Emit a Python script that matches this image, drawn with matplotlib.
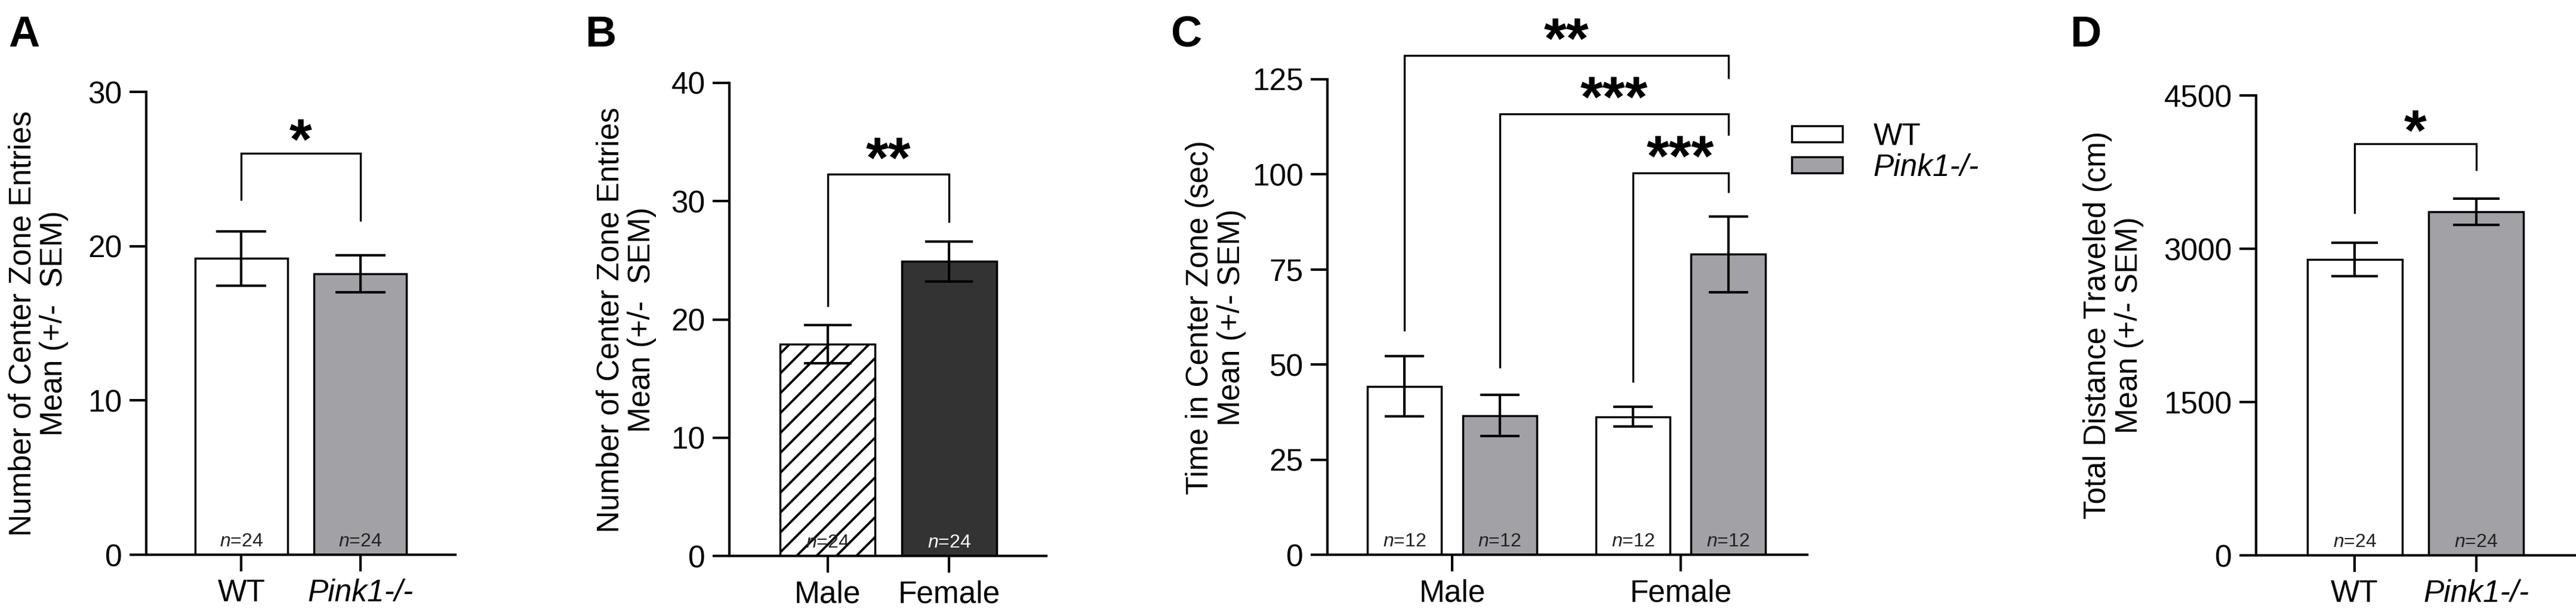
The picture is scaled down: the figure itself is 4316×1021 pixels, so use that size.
import matplotlib
matplotlib.use("Agg")
import matplotlib.pyplot as plt
from matplotlib.patches import Patch

# ---- data ----
genotypes = ["WT", "Pink1-/-"]
sexes = ["Male", "Female"]

# A: center zone entries by genotype
a_mean = [19.2, 18.2]
a_sem = [1.75, 1.2]
a_n = ["24", "24"]
a_ticks = [0, 10, 20, 30]

# B: center zone entries by sex
b_mean = [17.9, 24.9]
b_sem = [1.6, 1.7]
b_n = ["24", "24"]
b_ticks = [0, 10, 20, 30, 40]

# C: time in center zone, sex x genotype
c_wt_mean = [44.3, 36.3]
c_wt_sem = [7.85, 2.6]
c_pink_mean = [36.6, 79.0]
c_pink_sem = [5.45, 9.95]
c_n = ["12", "12", "12", "12"]
c_ticks = [0, 25, 50, 75, 100, 125]

# D: total distance by genotype
d_mean = [2894, 3361]
d_sem = [163, 128]
d_n = ["24", "24"]
d_ticks = [0, 1500, 3000, 4500]

# significance brackets: (x1, x2, top, left foot, right foot, star centre, label)
a_sig = [(0, 1, 26.0, 22.95, 21.6, 27.8, "*")]
b_sig = [(0, 1, 32.3, 21.1, 28.2, 34.8, "**")]
c_sig = [
    (0, 3.4, 131.3, 58.8, 125.2, 139.3, "**"),
    (1, 3.4, 115.9, 49.1, 110.3, 123.9, "***"),
    (2.4, 3.4, 100.4, 45.3, 95.2, 108.4, "***"),
]
d_sig = [(0, 1, 4025, 3342, 3767, 4291, "*")]

# ---- style ----
W, H = 4316, 1021
DPI = 100
WHITE = "#ffffff"
GRAY = "#a2a2a6"
DARK = "#333333"
FS = 37
STAR_FS = 70

plt.rcParams["font.family"] = ["Liberation Sans", "DejaVu Sans"]
plt.rcParams["mathtext.fontset"] = "custom"
plt.rcParams["mathtext.rm"] = "Liberation Sans"
plt.rcParams["mathtext.it"] = "Liberation Sans:italic"
plt.rcParams["hatch.linewidth"] = 2.8

fig = plt.figure(figsize=(W / DPI, H / DPI), dpi=DPI)


def add_axes(left, right, bottom, top):
    return fig.add_axes([left / W, 1 - bottom / H, (right - left) / W, (bottom - top) / H])


def style(ax, yticks, xlim):
    for s in ("top", "right"):
        ax.spines[s].set_visible(False)
    for s in ("left", "bottom"):
        ax.spines[s].set_linewidth(3)
    ax.set_ylim(0, yticks[-1])
    ax.set_yticks(yticks)
    ax.set_xlim(*xlim)
    ax.tick_params(axis="both", length=20, width=3, labelsize=FS, pad=9)


def bars(ax, x, means, sems, colors, capsize, hatch=None):
    ax.bar(x, means, 0.78, color=colors, edgecolor="black", linewidth=2.5,
           hatch=hatch, zorder=2)
    ax.errorbar(x, means, yerr=sems, fmt="none", ecolor="black", elinewidth=3,
                capsize=capsize, capthick=3, zorder=3)


def n_labels(ax, x, ns, colors):
    for xi, n, c in zip(x, ns, colors):
        ax.annotate(r"$\mathit{n}$=" + n, (xi, 0), xytext=(0, 10),
                    textcoords="offset points", ha="center", va="baseline",
                    fontsize=23, color=c, zorder=4)


def brackets(ax, sig):
    for x1, x2, top, f1, f2, sy, lab in sig:
        ax.plot([x1, x1, x2, x2], [f1, top, top, f2], color="black", lw=2.4,
                clip_on=False, solid_joinstyle="miter", solid_capstyle="butt")
        ax.annotate(lab, ((x1 + x2) / 2, sy), xytext=(0, -0.57 * STAR_FS),
                    textcoords="offset points", ha="center", va="baseline",
                    fontsize=STAR_FS, fontweight="bold", annotation_clip=False)


def ylabel(ax, text, right_px, ymid_px):
    ax.set_ylabel(text, fontsize=FS, linespacing=1.1)
    ax.yaxis.set_label_coords(right_px / W, 1 - ymid_px / H, transform=fig.transFigure)


# ---- A ----
axA = add_axes(245, 763, 930, 154)
xA = [0, 1]
bars(axA, xA, a_mean, a_sem, [WHITE, GRAY], 30)
n_labels(axA, xA, a_n, ["#222222", "#222222"])
brackets(axA, a_sig)
style(axA, a_ticks, (-0.80, 1.80))
axA.set_xticks(xA)
axA.set_xticklabels(genotypes)
axA.get_xticklabels()[1].set_fontstyle("italic")
ylabel(axA, "Number of Center Zone Entries\nMean (+/-  SEM)", 115, 542)

# ---- B ----
axB = add_axes(1222, 1753, 932, 139)
xB = [0, 1]
axB.bar(xB[0], b_mean[0], 0.78, color=WHITE, edgecolor="black", linewidth=2.5,
        hatch="/", zorder=2)
axB.bar(xB[1], b_mean[1], 0.78, color=DARK, edgecolor="black", linewidth=2.5, zorder=2)
axB.errorbar(xB, b_mean, yerr=b_sem, fmt="none", ecolor="black", elinewidth=3,
             capsize=29, capthick=3, zorder=3)
n_labels(axB, xB, b_n, ["#222222", "white"])
brackets(axB, b_sig)
style(axB, b_ticks, (-0.81, 1.80))
axB.set_xticks(xB)
axB.set_xticklabels(sexes)
ylabel(axB, "Number of Center Zone Entries\nMean (+/-  SEM)", 1100, 536)

# ---- C ----
axC = add_axes(2224, 3028, 930, 133)
x_wt = [0, 2.4]
x_pink = [1, 3.4]
bars(axC, x_wt, c_wt_mean, c_wt_sem, WHITE, 24)
bars(axC, x_pink, c_pink_mean, c_pink_sem, GRAY, 24)
n_labels(axC, [0, 1, 2.4, 3.4], c_n, ["#222222"] * 4)
brackets(axC, c_sig)
style(axC, c_ticks, (-0.81, 4.23))
axC.set_xticks([0.5, 2.9])
axC.set_xticklabels(sexes)
ylabel(axC, "Time in Center Zone (sec)\nMean (+/- SEM)", 2088, 532)
handles = [Patch(facecolor=WHITE, edgecolor="black", linewidth=2.5),
           Patch(facecolor=GRAY, edgecolor="black", linewidth=2.5)]
leg = axC.legend(handles, genotypes, loc="upper left",
                 bbox_to_anchor=(3002 / W, 1 - 205 / H),
                 bbox_transform=fig.transFigure, frameon=False, fontsize=FS,
                 handlelength=1.66, handleheight=0.44, handletextpad=1.0,
                 labelspacing=0.05, borderpad=0, borderaxespad=0)
leg.get_texts()[1].set_fontstyle("italic")

# ---- D ----
axD = add_axes(3780, 4316, 931, 160)
xD = [0, 1]
bars(axD, xD, d_mean, d_sem, [WHITE, GRAY], 28)
n_labels(axD, xD, d_n, ["#222222", "#222222"])
brackets(axD, d_sig)
style(axD, d_ticks, (-0.81, 1.82))
axD.set_xticks(xD)
axD.set_xticklabels(genotypes)
axD.get_xticklabels()[1].set_fontstyle("italic")
ylabel(axD, "Total Distance Traveled (cm)\nMean (+/- SEM)", 3592, 545)

# ---- panel letters ----
for letter, xpx in (("A", 14), ("B", 980), ("C", 1962), ("D", 3468)):
    fig.text(xpx / W, 1 - 78 / H, letter, fontsize=52, fontweight="bold",
             ha="left", va="baseline")

fig.savefig("out.png", dpi=DPI)
